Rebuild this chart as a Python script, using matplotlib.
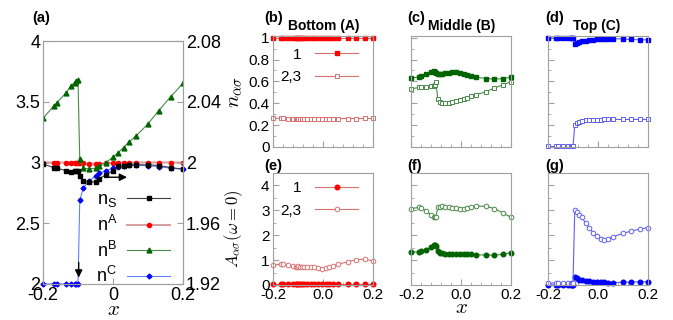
import numpy as np
import matplotlib
matplotlib.use('Agg')
import matplotlib.pyplot as plt
from matplotlib.ticker import MultipleLocator, FormatStrFormatter, NullFormatter

plt.rcParams['font.family'] = ['Liberation Sans', 'DejaVu Sans']
plt.rcParams['mathtext.fontset'] = 'cm'
plt.rcParams['axes.unicode_minus'] = False

# panel (a): total occupations
xa = [-0.2, -0.169, -0.16, -0.135, -0.12, -0.11, -0.105, -0.1, -0.095, -0.085, -0.07, -0.05,
      -0.04, -0.02, 0.0, 0.015, 0.03, 0.045, 0.065, 0.1, 0.13, 0.165, 0.2]
n_S = [1.9989, 1.9967, 1.9962, 1.9947, 1.9937, 1.9941, 1.9942, 1.9946, 1.9908, 1.9879, 1.9869, 1.9873,
       1.9893, 1.9919, 1.9946, 1.9974, 1.998, 1.9985, 1.9985, 1.9985, 1.998, 1.9967, 1.9956]
n_A = [3.0, 3.0, 3.0, 3.0, 3.0, 3.0, 2.998, 2.997, 2.995, 2.992, 2.99, 2.99,
       2.99, 2.993, 2.996, 2.998, 3.0, 3.0, 3.0, 3.0, 3.0, 3.0, 3.0]
n_B = [3.364, 3.466, 3.493, 3.57, 3.63, 3.658, 3.668, 3.679, 3.027, 2.953, 2.948, 2.953,
       2.975, 3.0, 3.044, 3.082, 3.123, 3.167, 3.216, 3.318, 3.425, 3.542, 3.652]
n_C = [2.0, 2.0, 2.0, 2.0, 2.0, 2.0, 2.0, 2.0, 2.688, 2.789, 2.844, 2.89,
       2.912, 2.934, 2.953, 2.967, 2.975, 2.978, 2.978, 2.973, 2.967, 2.953, 2.945]

# panels (b)-(g): orbital resolved occupations and spectral weight
xo = [-0.2, -0.167, -0.16, -0.14, -0.12, -0.11, -0.105, -0.1, -0.093, -0.085, -0.075, -0.065,
      -0.05, -0.035, -0.02, -0.005, 0.01, 0.025, 0.04, 0.06, 0.1, 0.133, 0.167, 0.2]
nA_1 = [0.995, 0.995, 0.995, 0.995, 0.995, 0.995, 0.995, 0.995, 0.995, 0.995, 0.995, 0.995,
        0.995, 0.995, 0.995, 0.995, 0.995, 0.995, 0.995, 0.995, 0.995, 0.995, 0.995, 0.995]
nA_23 = [0.262, 0.262, 0.261, 0.26, 0.258, 0.257, 0.257, 0.256, 0.256, 0.256, 0.256, 0.256,
         0.256, 0.256, 0.256, 0.257, 0.257, 0.258, 0.258, 0.259, 0.26, 0.26, 0.261, 0.261]
nB_1 = [0.627, 0.643, 0.645, 0.665, 0.685, 0.694, 0.685, 0.675, 0.668, 0.667, 0.672, 0.676,
        0.681, 0.683, 0.682, 0.678, 0.668, 0.66, 0.652, 0.64, 0.625, 0.622, 0.624, 0.64]
nB_23 = [0.531, 0.545, 0.55, 0.552, 0.555, 0.556, 0.57, 0.59, 0.44, 0.41, 0.403, 0.403,
         0.406, 0.412, 0.42, 0.43, 0.44, 0.452, 0.464, 0.479, 0.505, 0.54, 0.567, 0.597]
nC_1 = [0.995, 0.995, 0.995, 0.995, 0.995, 0.995, 0.995, 0.995, 0.945, 0.955, 0.962, 0.968,
        0.973, 0.978, 0.982, 0.985, 0.988, 0.99, 0.99, 0.99, 0.988, 0.983, 0.98, 0.98]
nC_23 = [0.005, 0.005, 0.005, 0.005, 0.005, 0.005, 0.005, 0.005, 0.197, 0.222, 0.232, 0.238,
         0.243, 0.246, 0.249, 0.25, 0.251, 0.252, 0.252, 0.252, 0.252, 0.252, 0.252, 0.252]
AA_1 = [0.05, 0.05, 0.05, 0.05, 0.05, 0.05, 0.05, 0.05, 0.05, 0.05, 0.05, 0.05,
        0.05, 0.05, 0.05, 0.05, 0.05, 0.05, 0.05, 0.05, 0.05, 0.05, 0.05, 0.05]
AA_23 = [0.8, 0.84, 0.86, 0.8, 0.75, 0.71, 0.74, 0.76, 0.74, 0.73, 0.74, 0.74,
         0.73, 0.72, 0.7, 0.66, 0.67, 0.71, 0.76, 0.84, 0.93, 1.02, 1.03, 0.97]
AB_1 = [1.33, 1.33, 1.35, 1.42, 1.52, 1.6, 1.6, 1.55, 1.36, 1.29, 1.27, 1.26,
        1.25, 1.25, 1.25, 1.25, 1.25, 1.24, 1.23, 1.22, 1.2, 1.2, 1.23, 1.3]
AB_23 = [3.07, 3.12, 3.1, 2.98, 2.82, 2.73, 2.72, 2.74, 3.12, 3.15, 3.16, 3.15,
         3.13, 3.1, 3.08, 3.06, 3.06, 3.1, 3.14, 3.16, 3.17, 3.07, 2.9, 2.72]
AC_1 = [0.0, 0.0, 0.0, 0.0, 0.0, 0.0, 0.0, 0.0, 0.33, 0.28, 0.22, 0.19,
        0.16, 0.15, 0.13, 0.12, 0.11, 0.11, 0.1, 0.1, 0.11, 0.12, 0.13, 0.13]
AC_23 = [0.08, 0.08, 0.08, 0.08, 0.08, 0.08, 0.08, 0.08, 3.0, 2.93, 2.83, 2.72,
         2.5, 2.3, 2.1, 1.95, 1.85, 1.81, 1.86, 1.94, 2.07, 2.17, 2.24, 2.31]

GREY = '#a0a0a0'
# (marker colour, line colour) per layer
RED = ('#ff0000', '#d87070')
GREEN = ('#006400', '#4a8a4a')
BLUE = ('#0000ff', '#6060f0')


def frame(ax):
    for s in ax.spines.values():
        s.set_color(GREY)
    ax.tick_params(which='both', direction='in', color=GREY)


def small_panel(ax, ymax, ymaj, ymin, ylabels, xlabels):
    frame(ax)
    ax.set_xlim(-0.2, 0.2)
    ax.set_ylim(0, ymax)
    ax.xaxis.set_major_locator(MultipleLocator(0.2))
    ax.xaxis.set_minor_locator(MultipleLocator(0.04))
    ax.yaxis.set_major_locator(MultipleLocator(ymaj))
    ax.yaxis.set_minor_locator(MultipleLocator(ymin))
    ax.tick_params(which='major', length=4, labelsize=11, pad=2.5)
    ax.tick_params(which='minor', length=2.5)
    ax.xaxis.set_major_formatter(FormatStrFormatter('%.1f') if xlabels else NullFormatter())
    ax.yaxis.set_major_formatter(FormatStrFormatter('%g') if ylabels else NullFormatter())


def two_series(ax, y1, y23, col, mk, ms):
    h1, = ax.plot(xo, y1, '-', color=col[1], lw=0.8, marker=mk, ms=ms,
                  mfc=col[0], mec=col[0], clip_on=False, label='1')
    h2, = ax.plot(xo, y23, '-', color=col[1], lw=0.8, marker=mk, ms=ms,
                  mfc='white', mec=col[1], mew=0.7, clip_on=False, label='2,3')
    return h1, h2


fig = plt.figure(figsize=(6.73, 3.2), dpi=100)

# ---- panel (a)
ax = fig.add_axes([43/673, 36/320, 140/673, 243/320])
ax2 = ax.twinx()
frame(ax)
frame(ax2)
ax.set_xlim(-0.2, 0.2)
ax.set_ylim(2, 4)
ax2.set_ylim(1.92, 2.08)
ax.set_xticks([-0.2, 0, 0.2])
ax.xaxis.set_major_formatter(FormatStrFormatter('%g'))
ax.set_yticks([2, 2.5, 3, 3.5, 4])
ax.yaxis.set_major_formatter(FormatStrFormatter('%g'))
ax2.set_yticks([1.92, 1.96, 2.0, 2.04, 2.08])
ax2.yaxis.set_major_formatter(FormatStrFormatter('%g'))
ax.tick_params(labelsize=13, length=4, pad=2)
ax2.tick_params(labelsize=13, length=4, pad=2)

hs, = ax2.plot(xa, n_S, '-', color='#404040', lw=0.8, marker='s', ms=3.5, mfc='k', mec='k',
               label='n$_\\mathregular{S}$')
ha, = ax.plot(xa, n_A, '-', color='#d8a0a0', lw=1.5, marker='o', ms=3, mfc='#ff0000',
              mec='#ff0000', label='n$^\\mathregular{A}$')
hb, = ax.plot(xa, n_B, '-', color='#4a8a4a', lw=0.8, marker='^', ms=3.5, mfc='#006400',
              mec='#006400', label='n$^\\mathregular{B}$')
hc, = ax.plot(xa, n_C, '-', color='#6080ff', lw=0.8, marker='D', ms=2.5, mfc='#0000ff',
              mec='#0000ff', label='n$^\\mathregular{C}$', clip_on=False)
ax2.annotate('', xy=(0.048, 1.9903), xytext=(-0.03, 1.9903),
             arrowprops=dict(arrowstyle='-|>', color='k', lw=1, mutation_scale=11))
ax.annotate('', xy=(-0.098, 2.03), xytext=(-0.098, 2.2),
            arrowprops=dict(arrowstyle='-|>', color='k', lw=1, mutation_scale=11))
ax2.legend(handles=[hs, ha, hb, hc], loc='upper right', bbox_to_anchor=(0.96, 0.41),
           frameon=False, markerfirst=False, fontsize=13, handlelength=2.4,
           handletextpad=0.5, labelspacing=0.3, borderaxespad=0)
ax.set_xlabel('$x$', fontsize=15, labelpad=-3)
fig.text(32/673, 1 - 18/320, '(a)', fontsize=10.5, fontweight='bold', va='center')

# ---- panels (b)-(g)
left = [273, 411, 548]
top_data = [(nA_1, nA_23, RED), (nB_1, nB_23, GREEN), (nC_1, nC_23, BLUE)]
bot_data = [(AA_1, AA_23, RED), (AB_1, AB_23, GREEN), (AC_1, AC_23, BLUE)]
titles = ['Bottom (A)', 'Middle (B)', 'Top (C)']
tags_top = ['(b)', '(c)', '(d)']
tags_bot = ['(e)', '(f)', '(g)']
tag_x = [264, 407, 545]
title_x = [288, 428, 573]

for i in range(3):
    axt = fig.add_axes([left[i]/673, (320-147)/320, 100/673, 111/320])
    small_panel(axt, 1.015, 0.2, 0.1, i == 0, False)
    h1, h2 = two_series(axt, top_data[i][0], top_data[i][1], top_data[i][2], 's', 3)
    if i == 0:
        axt.set_ylabel(r'$n_{\alpha\sigma}$', fontsize=15)
        axt.yaxis.set_label_coords(-0.29, 0.5)
        axt.legend(handles=[h1, h2], loc='upper right', bbox_to_anchor=(0.91, 0.95),
                   frameon=False, markerfirst=False, fontsize=11, handlelength=2.8,
                   handletextpad=0.9, labelspacing=0.55, borderaxespad=0)
    fig.text(tag_x[i]/673, 1 - 18/320, tags_top[i], fontsize=10.5, fontweight='bold', va='center')
    fig.text(title_x[i]/673, 1 - 26/320, titles[i], fontsize=10, fontweight='bold', va='center')

    axb = fig.add_axes([left[i]/673, 35/320, 100/673, 112/320])
    small_panel(axb, 4.5, 1, 0.5, i == 0, True)
    h1, h2 = two_series(axb, bot_data[i][0], bot_data[i][1], bot_data[i][2], 'o', 3.3)
    if i == 0:
        axb.set_ylabel(r'$A_{\alpha\sigma}(\omega=0)$', fontsize=12)
        axb.yaxis.set_label_coords(-0.28, 0.5)
        axb.legend(handles=[h1, h2], loc='upper right', bbox_to_anchor=(0.91, 0.98),
                   frameon=False, markerfirst=False, fontsize=11, handlelength=2.8,
                   handletextpad=0.9, labelspacing=0.55, borderaxespad=0)
    if i == 1:
        axb.set_xlabel('$x$', fontsize=15, labelpad=-3)
    fig.text(tag_x[i]/673, 1 - 166/320, tags_bot[i], fontsize=10.5, fontweight='bold', va='center')

fig.savefig('out.png', dpi=100)
